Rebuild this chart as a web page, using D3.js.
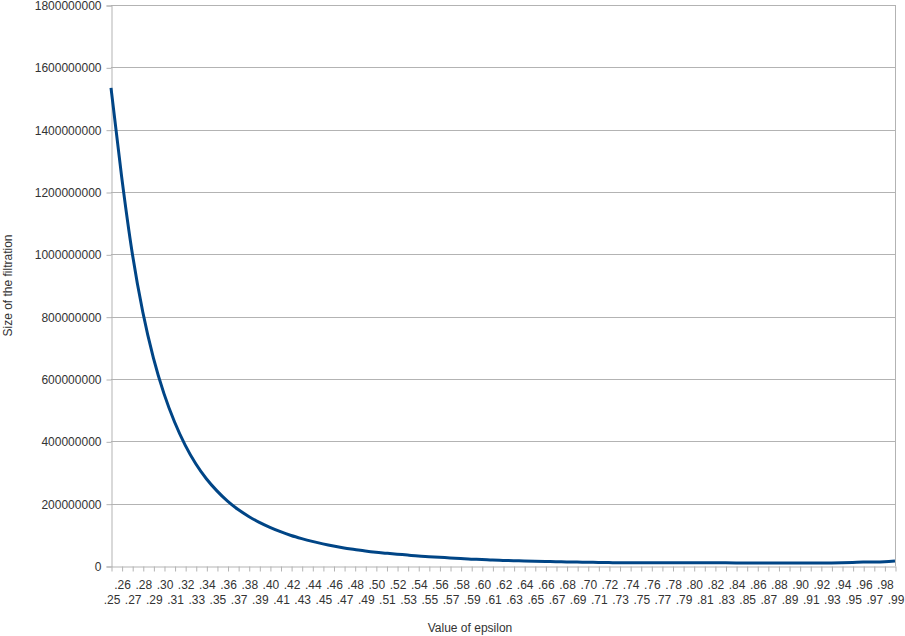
<!DOCTYPE html>
<html>
<head>
<meta charset="utf-8">
<script src="https://cdn.jsdelivr.net/npm/d3@7/dist/d3.min.js"></script>
<style>
  html, body { margin: 0; padding: 0; background: #fff; }
  svg { display: block; }
  text { font-family: "Liberation Sans", Arial, sans-serif; }
</style>
</head>
<body>
<div id="chart"></div>
<script>
// Categories: epsilon from .25 to .99
const categories = [".25",".26",".27",".28",".29",".30",".31",".32",".33",".34",".35",".36",".37",".38",".39",
  ".40",".41",".42",".43",".44",".45",".46",".47",".48",".49",".50",".51",".52",".53",".54",".55",".56",".57",".58",".59",
  ".60",".61",".62",".63",".64",".65",".66",".67",".68",".69",".70",".71",".72",".73",".74",".75",".76",".77",".78",".79",
  ".80",".81",".82",".83",".84",".85",".86",".87",".88",".89",".90",".91",".92",".93",".94",".95",".96",".97",".98",".99"];

// Size of the filtration (in millions)
const sizeMillions = [1534,1250,1005,815,668,553,462,388,328,280,241,208,181,159,140,
  124,110,98,88,79,71,64,58,53,48,44,41,38,35,32,
  30,28,26,24,22,21,19,18,17,16,15,14.5,14,13,12.5,
  12,11.5,11,10.5,10.5,10.5,10.4,10.4,10.3,10.3,10.2,10.2,10.1,10.1,10,
  10,10,10,10,10,10,10,10,10,10.5,11.5,12.5,13,14,16];

const yTicks = [0,200000000,400000000,600000000,800000000,1000000000,1200000000,1400000000,1600000000,1800000000];

const data = categories.map((c, i) => ({ cat: c, value: sizeMillions[i] * 1e6 }));

const W = 905, H = 636;
const mLeft = 111, mRight = 895, mTop = 5, mBottom = 566;
const gridColor = "#b3b3b3";
const textColor = "#333333";

const svg = d3.select("#chart").append("svg").attr("width", W).attr("height", H);

const x = d3.scalePoint().domain(categories).range([mLeft, mRight]);
const y = d3.scaleLinear().domain([0, 1800000000]).range([mBottom, mTop]);

// Gridlines
svg.append("g").selectAll("line").data(yTicks.filter(d => d > 0)).join("line")
  .attr("x1", mLeft).attr("x2", mRight)
  .attr("y1", d => Math.round(y(d)) + 0.5).attr("y2", d => Math.round(y(d)) + 0.5)
  .attr("stroke", gridColor).attr("stroke-width", 1);

// Right border
svg.append("line").attr("x1", mRight + 0.5).attr("x2", mRight + 0.5)
  .attr("y1", mTop).attr("y2", mBottom).attr("stroke", gridColor);

// Y axis
const yAxis = svg.append("g").attr("transform", `translate(${mLeft + 0.5},0.5)`)
  .call(d3.axisLeft(y).tickValues(yTicks).tickFormat(d3.format("d")).tickSize(5).tickPadding(5));
yAxis.select(".domain").attr("stroke", gridColor);
yAxis.selectAll(".tick line").attr("stroke", gridColor);
yAxis.selectAll(".tick text").attr("fill", textColor).style("font-size", "12px")
  .style("font-family", "'Liberation Sans', Arial, sans-serif");

// X axis
const xAxis = svg.append("g").attr("transform", `translate(0.5,${mBottom + 0.5})`)
  .call(d3.axisBottom(x).tickSize(5).tickPadding(3).tickSizeOuter(0));
xAxis.select(".domain").attr("stroke", gridColor);
xAxis.selectAll(".tick line").attr("stroke", gridColor);
xAxis.selectAll(".tick text")
  .attr("fill", textColor).style("font-size", "12px")
  .style("font-family", "'Liberation Sans', Arial, sans-serif")
  .attr("dy", null)
  .attr("y", (d, i) => i % 2 === 0 ? 37 : 22);

// Line
const line = d3.line().x(d => x(d.cat)).y(d => y(d.value)).curve(d3.curveMonotoneX);
svg.append("path").datum(data)
  .attr("d", line)
  .attr("fill", "none")
  .attr("stroke", "#004586")
  .attr("stroke-width", 3)
  .attr("stroke-linejoin", "round")
  .attr("stroke-linecap", "butt");

// Axis titles
svg.append("text").attr("x", 470).attr("y", 632)
  .attr("text-anchor", "middle").attr("fill", textColor).style("font-size", "12px")
  .text("Value of epsilon");

svg.append("text").attr("transform", `translate(12,${(mTop + mBottom) / 2}) rotate(-90)`)
  .attr("text-anchor", "middle").attr("fill", textColor).style("font-size", "12px")
  .text("Size of the filtration");
</script>
</body>
</html>
